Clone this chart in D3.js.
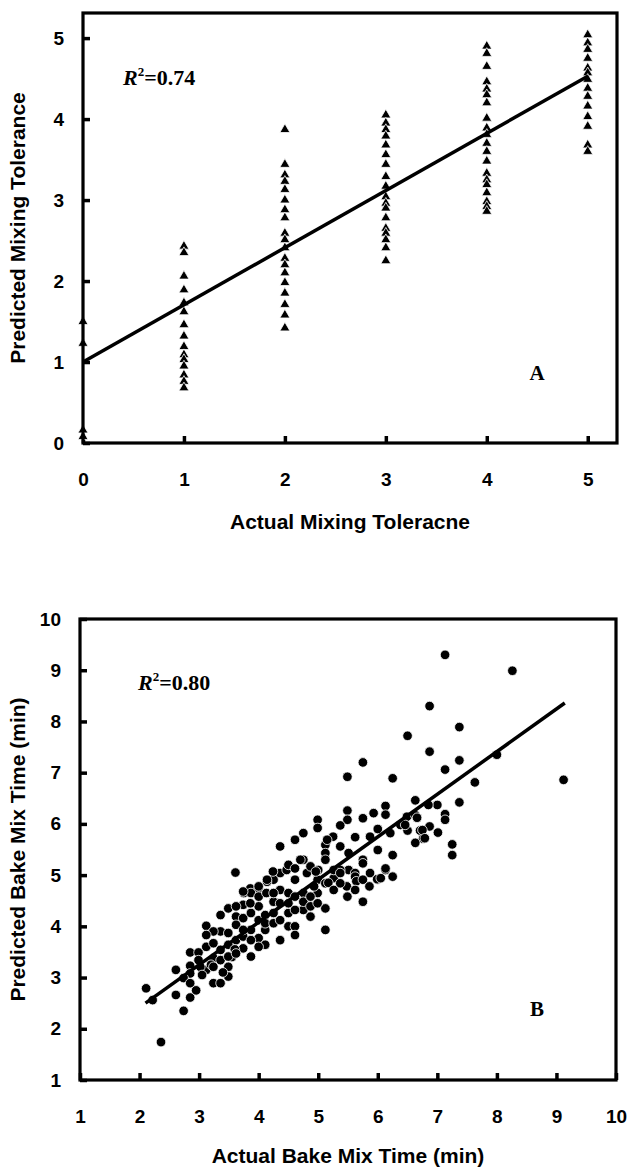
<!DOCTYPE html>
<html>
<head>
<meta charset="utf-8">
<script src="https://cdn.jsdelivr.net/npm/d3@7"></script>
<style>
  html, body { margin: 0; padding: 0; background: #fff; }
  svg { display: block; }
</style>
</head>
<body>
<script>
// ---------- DATA ----------
// Panel A: actual mixing tolerance classes and predicted values in each class
const tolClasses = [0, 1, 2, 3, 4, 5];
const tol0 = [1.50, 1.23, 0.16, 0.08];
const tol1 = [2.43, 2.35, 2.06, 1.89, 1.73, 1.62, 1.46, 1.32, 1.19, 1.09, 1.03, 0.95, 0.84, 0.76, 0.68];
const tol2 = [3.87, 3.44, 3.31, 3.23, 3.13, 3.00, 2.88, 2.78, 2.59, 2.51, 2.41, 2.28, 2.20, 2.10, 1.98, 1.85, 1.71, 1.58, 1.42];
const tol3 = [4.05, 3.95, 3.87, 3.79, 3.68, 3.56, 3.44, 3.29, 3.17, 3.04, 2.96, 2.90, 2.78, 2.65, 2.59, 2.51, 2.41, 2.25];
const tol4 = [4.90, 4.81, 4.65, 4.46, 4.37, 4.30, 4.20, 4.01, 3.89, 3.81, 3.70, 3.60, 3.48, 3.33, 3.25, 3.19, 3.09, 2.98, 2.92, 2.86];
const tol5 = [5.04, 4.94, 4.86, 4.75, 4.63, 4.57, 4.49, 4.38, 4.28, 4.16, 4.03, 3.91, 3.68, 3.60];
const tolPredicted = [tol0, tol1, tol2, tol3, tol4, tol5];
const tolTicks = [0, 1, 2, 3, 4, 5];
const tolFitX = [0, 5];
const tolFitY = [1.00, 4.53];

// Panel B: actual vs predicted bake mix time (min)
const bakeActual = [
  7.13, 8.26, 6.87, 7.37, 6.50, 6.87, 7.37, 7.13, 8.00, 7.63, 9.12, 6.63, 7.37, 7.00, 6.85, 7.13, 7.13, 6.49, 6.63, 6.38,
  6.50, 6.71, 6.87, 6.76, 6.63, 7.01, 7.25, 7.25, 5.75, 5.49, 6.25, 6.13, 5.49, 6.13, 5.93, 5.75, 5.49, 4.99, 4.99, 5.37,
  6.21, 6.00, 5.87, 5.62, 5.25, 5.12, 4.75, 4.61, 4.36, 5.12, 5.12, 5.37, 5.51, 5.51, 5.75, 6.00, 6.25, 6.13, 6.25, 6.00,
  5.87, 5.62, 5.37, 5.26, 5.00, 4.81, 4.75, 4.87, 4.61, 4.36, 4.25, 4.47, 3.61, 3.86, 4.00, 4.14, 3.75,
  2.11, 2.22, 2.61, 2.85, 2.74, 2.36, 2.61, 2.85, 2.85, 2.74, 2.85, 3.12, 3.24, 3.36, 3.49, 3.49, 3.12, 2.85, 2.99, 3.12,
  3.24, 3.36, 3.24, 3.36, 3.02, 3.36, 3.24, 3.49, 3.36, 3.49, 3.62, 3.62, 3.62, 3.49, 3.74, 3.74, 3.74, 3.74, 3.87, 4.00,
  3.87, 3.87, 3.87, 3.74, 4.00, 4.00, 4.00, 4.11, 4.11, 4.11, 4.25, 4.25, 4.36, 4.36, 4.50, 4.50, 4.61, 4.61, 4.36, 4.50,
  4.75, 4.87, 4.99, 5.12, 5.12, 4.99, 5.12, 4.75, 5.26, 5.37, 5.48, 5.49, 5.62, 5.75, 5.75, 5.99, 6.13, 4.14, 4.24, 4.50,
  4.61, 4.70, 4.00, 4.13, 3.86, 3.62, 6.46, 6.66, 6.75, 6.79, 5.15, 4.96, 5.17, 5.64, 6.05, 4.93,
  3.05, 3.20, 2.95, 3.40, 3.55, 3.60,
  3.12, 2.99, 3.24, 3.49, 3.62, 3.74, 3.87, 4.00, 4.11, 4.25, 4.25, 4.36, 4.50, 4.61, 4.61, 4.75, 4.87, 4.87, 4.99, 5.26,
  5.37, 5.62, 5.75, 5.86
];
const bakePredicted = [
  9.30, 8.99, 8.30, 7.89, 7.72, 7.41, 7.24, 7.06, 7.35, 6.81, 6.86, 6.46, 6.42, 6.37, 6.37, 6.19, 6.08, 6.14, 6.17, 5.98,
  5.87, 5.87, 5.95, 5.71, 5.63, 5.83, 5.60, 5.39, 7.20, 6.92, 6.89, 6.35, 6.26, 6.18, 6.21, 6.11, 6.08, 6.08, 5.92, 5.97,
  5.82, 5.90, 5.75, 5.74, 5.75, 5.59, 5.82, 5.69, 5.56, 5.43, 5.30, 5.56, 5.43, 5.10, 5.30, 5.49, 5.39, 5.10, 4.97, 4.91,
  5.04, 5.04, 5.10, 4.94, 5.10, 5.04, 5.30, 5.17, 4.91, 5.04, 4.91, 5.10, 5.05, 4.74, 4.74, 4.87, 4.65,
  2.79, 2.56, 2.66, 2.61, 2.35, 1.74, 3.15, 3.23, 3.08, 2.99, 2.89, 3.15, 2.89, 2.89, 3.02, 3.21, 4.01, 3.49, 3.49, 3.60,
  3.67, 3.54, 3.38, 3.34, 3.21, 3.90, 3.90, 3.87, 4.22, 4.35, 4.19, 4.03, 3.73, 3.64, 3.57, 3.80, 4.42, 4.16, 3.41, 3.77,
  3.93, 4.26, 4.65, 4.68, 4.78, 4.39, 4.12, 3.93, 3.64, 4.22, 4.48, 4.26, 4.45, 3.73, 4.00, 4.26, 4.00, 3.83, 4.71, 4.65,
  4.32, 4.19, 4.65, 4.35, 3.93, 4.91, 4.84, 4.65, 5.10, 5.04, 4.78, 4.58, 4.97, 4.48, 5.23, 4.92, 5.13, 4.91, 5.07, 5.20,
  5.13, 5.30, 4.58, 4.65, 4.45, 4.39, 5.98, 6.12, 5.88, 5.72, 5.69, 5.07, 4.85, 4.88, 4.94, 4.78,
  3.05, 3.25, 2.75, 3.10, 3.40, 3.55,
  3.83, 3.34, 3.21, 3.41, 3.47, 3.93, 3.73, 3.60, 4.06, 4.65, 4.06, 4.12, 4.45, 4.32, 4.58, 4.48, 4.58, 4.39, 4.45, 4.71,
  4.84, 4.71, 4.91, 4.78
];
const bakeTicks = [1, 2, 3, 4, 5, 6, 7, 8, 9, 10];
const bakeFitX = [2.10, 9.14];
const bakeFitY = [2.50, 8.36];

// ---------- DRAWING ----------
const W = 632, H = 1169;
const svg = d3.select("body").append("svg").attr("width", W).attr("height", H);

const SANS = "'Liberation Sans', Arial, Helvetica, sans-serif";
const SERIF = "'Liberation Serif', 'Times New Roman', serif";

function panel(cfg) {
  const g = svg.append("g");
  const x = d3.scaleLinear().domain(cfg.xDom).range([cfg.left, cfg.right]);
  const y = d3.scaleLinear().domain(cfg.yDom).range([cfg.bottom, cfg.top]);

  // axes (ticks point inward)
  const ax = g.append("g").attr("transform", `translate(0,${cfg.bottom})`)
    .call(d3.axisBottom(x).tickValues(cfg.ticks).tickSize(-7).tickPadding(30).tickFormat(d3.format("d")));
  const ay = g.append("g").attr("transform", `translate(${cfg.left},0)`)
    .call(d3.axisLeft(y).tickValues(cfg.ticks).tickSize(-7).tickPadding(19).tickFormat(d3.format("d")));
  [ax, ay].forEach(a => {
    a.select(".domain").remove();
    a.selectAll(".tick line").attr("stroke", "#000").attr("stroke-width", 3.5);
    a.selectAll(".tick text").attr("fill", "#000")
      .style("font-family", SANS).style("font-weight", "bold").style("font-size", "19px");
  });

  // points
  cfg.drawPoints(g, x, y);

  // regression line
  g.append("line")
    .attr("x1", x(cfg.fitX[0])).attr("y1", y(cfg.fitY[0]))
    .attr("x2", x(cfg.fitX[1])).attr("y2", y(cfg.fitY[1]))
    .attr("stroke", "#000").attr("stroke-width", 3.5);

  // frame
  g.append("rect")
    .attr("x", cfg.left).attr("y", cfg.top)
    .attr("width", cfg.right - cfg.left).attr("height", cfg.bottom - cfg.top)
    .attr("fill", "none").attr("stroke", "#000").attr("stroke-width", 3.2);

  // axis titles
  g.append("text")
    .attr("x", (cfg.left + cfg.right) / 2).attr("y", cfg.bottom + cfg.xTitleDy)
    .attr("text-anchor", "middle")
    .style("font-family", SANS).style("font-weight", "bold").style("font-size", "21px")
    .text(cfg.xTitle);
  g.append("text")
    .attr("transform", `translate(25,${(cfg.top + cfg.bottom) / 2}) rotate(-90)`)
    .attr("text-anchor", "middle")
    .style("font-family", SANS).style("font-weight", "bold").style("font-size", "21px")
    .text(cfg.yTitle);

  // R^2 annotation
  const r = g.append("text")
    .attr("x", cfg.r2x).attr("y", cfg.r2y)
    .style("font-family", SERIF).style("font-weight", "bold").style("font-size", "22px");
  r.append("tspan").style("font-style", "italic").text("R");
  r.append("tspan").attr("dy", -9).style("font-size", "13px").text("2");
  r.append("tspan").attr("dy", 9).text("=" + cfg.r2);

  // panel letter
  g.append("text")
    .attr("x", cfg.letterX).attr("y", cfg.letterY)
    .attr("text-anchor", "middle")
    .style("font-family", SERIF).style("font-weight", "bold").style("font-size", "21px")
    .text(cfg.letter);
}

// Panel A
const tolPoints = [];
tolClasses.forEach((c, i) => tolPredicted[i].forEach(v => tolPoints.push([c, v])));

panel({
  xDom: [0, 5.29], yDom: [0, 5.31],
  left: 83, right: 617, top: 13, bottom: 443,
  ticks: tolTicks,
  fitX: tolFitX, fitY: tolFitY,
  xTitle: "Actual Mixing Toleracne", xTitleDy: 86,
  yTitle: "Predicted Mixing Tolerance",
  r2: "0.74", r2x: 123, r2y: 85,
  letter: "A", letterX: 537, letterY: 380,
  drawPoints: (g, x, y) => {
    g.append("g").selectAll("path").data(tolPoints).join("path")
      .attr("d", d3.symbol(d3.symbolTriangle, 44))
      .attr("transform", d => `translate(${x(d[0])},${y(d[1])})`)
      .attr("fill", "#000").attr("stroke", "#fff").attr("stroke-width", 0.8);
  }
});

// Panel B
const bakePoints = bakeActual.map((a, i) => [a, bakePredicted[i]]);

panel({
  xDom: [1, 10], yDom: [1, 10],
  left: 80, right: 616, top: 619, bottom: 1080,
  ticks: bakeTicks,
  fitX: bakeFitX, fitY: bakeFitY,
  xTitle: "Actual Bake Mix Time (min)", xTitleDy: 83,
  yTitle: "Predicted Bake Mix Time (min)",
  r2: "0.80", r2x: 138, r2y: 690,
  letter: "B", letterX: 537, letterY: 1016,
  drawPoints: (g, x, y) => {
    g.append("g").selectAll("circle").data(bakePoints).join("circle")
      .attr("cx", d => x(d[0])).attr("cy", d => y(d[1])).attr("r", 4.8)
      .attr("fill", "#000").attr("stroke", "#fff").attr("stroke-width", 0.8);
  }
});
</script>
</body>
</html>
